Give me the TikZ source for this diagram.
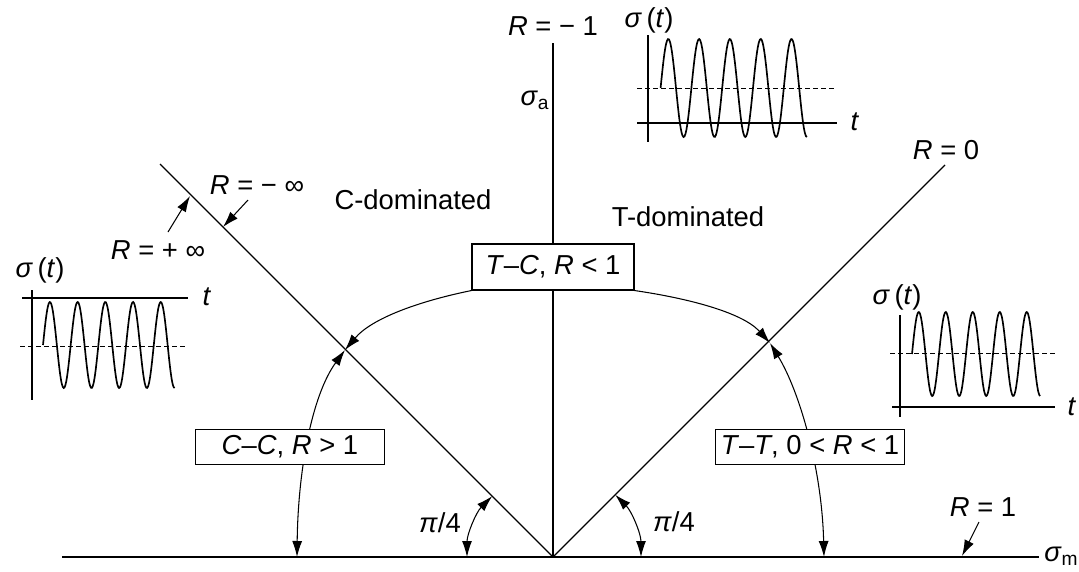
\documentclass[tikz,border=0pt]{standalone}
\usepackage{fontspec}
\setmainfont{Liberation Sans}
\usetikzlibrary{arrows.meta,backgrounds}
\newcommand{\Ri}{\textit{R}}
\newcommand{\sg}{\textit{σ}}
% one sine trace: start x, mid line y, period, amplitude
\newcommand{\wave}[4]{\draw[wave] plot[domain=0:4.75,samples=160,smooth] ({#1+\x*#3},{#2-#4*sin(\x*360)});}

\begin{document}
\begin{tikzpicture}[x=0.2mm,y=-0.2mm,
  font=\fontsize{15.6}{18}\selectfont,
  box/.style={draw,line width=0.6pt,fill=white,inner sep=0pt},
  ax/.style={line width=0.75pt},
  pax/.style={line width=0.6pt},
  mid/.style={line width=0.5pt,dash pattern=on 1mm off 0.6mm},
  wave/.style={line width=0.95pt},
  ar/.style={-{Latex[length=3.2mm,width=2mm]},line width=0.6pt},
  dar/.style={{Latex[length=3.2mm,width=2mm]}-{Latex[length=3.2mm,width=2mm]},line width=0.6pt}]
\useasboundingbox (0,0) rectangle (1079,572);

% main axes and the two 45 degree lines
\coordinate (O) at (553,557);
\draw[ax] (62,557) -- (1039,557);
\draw[ax] (O) -- (553,43);
\draw[ax] (O) -- (160,164);
\draw[ax] (O) -- (945,165);

\node (sa) at (535,100) {\sg\textsubscript{a}};
\node[anchor=west,inner sep=0pt] (sm) at (1044,556) {\sg\textsubscript{m}};
\node (rm1) at (553,26) {\Ri{} = − 1};
\node (r0) at (946,150) {\Ri{} = 0};
\node (r1) at (983,507) {\Ri{} = 1};
\node (rmi) at (257,185) {\Ri{} = − ∞};
\node (rpi) at (158,250) {\Ri{} = + ∞};
\node (cdom) at (413,200) {C-dominated};
\node (tdom) at (688,217) {T-dominated};
\node (q1) at (440,523) {\textit{π}/4};
\node (q2) at (674,522) {\textit{π}/4};

% boxes
\node[box,minimum width=32.4mm,minimum height=9.2mm] (tc) at (553,267) {\textit{T}–\textit{C}, \Ri{} < 1};
\node[box,minimum width=37.8mm,minimum height=7mm] (cc) at (290,447) {\textit{C}–\textit{C}, \Ri{} > 1};
\node[box,minimum width=37.8mm,minimum height=7mm] (tt) at (810,447) {\textit{T}–\textit{T}, 0 < \Ri{} < 1};

% points the arrows go to
\coordinate (pL) at (345,350);
\coordinate (pR) at (770,343);
\coordinate (hCC) at (297,557);
\coordinate (hTT) at (824,557);
\coordinate (qL) at (467,557);
\coordinate (qR) at (641,557);
\coordinate (rmiT) at (223,227);
\coordinate (rmiS) at (248,200);
\coordinate (rpiT) at (190,196);
\coordinate (rpiS) at (168,232);
\coordinate (r1T) at (962,556);
\coordinate (r1S) at (979,522);

\begin{scope}[on background layer]
\draw[ar] (tc.south west) .. controls (420,301) and (372,318) .. (pL);
\draw[ar] (tc.south east) .. controls (686,298) and (742,312) .. (pR);
\draw[dar] (hCC) .. controls (298,470) and (312,395) .. (pL);
\draw[dar] (hTT) .. controls (822,470) and (800,392) .. (pR);
\end{scope}
\draw[dar] (qL) arc[start angle=-180,end angle=-135,radius=86];
\draw[dar] (qR) arc[start angle=0,end angle=-45,radius=88];
\draw[ar] (rmiS) -- (rmiT);
\draw[ar] (rpiS) -- (rpiT);
\draw[ar] (r1S) -- (r1T);

% top trace, R = -1
\draw[pax] (648,35) -- (648,142);
\draw[pax] (637,123) -- (837,123);
\draw[mid] (637,88) -- (835,88);
\wave{660.6}{88}{30.8}{49}
\node (st1) at (649,20) {\sg\,(\textit{t})};
\node (t1) at (855,122) {\textit{t}};

% left trace, R = infinity
\draw[pax] (32,290) -- (32,400);
\draw[pax] (22,298) -- (188,298);
\draw[mid] (20,346) -- (185,346);
\wave{43}{345}{27.7}{43}
\node (st2) at (40,270) {\sg\,(\textit{t})};
\node (t2) at (207,297) {\textit{t}};

% right trace, R = 0
\draw[pax] (900,315) -- (900,417);
\draw[pax] (892,407) -- (1055,407);
\draw[mid] (890,353) -- (1055,353);
\wave{912}{354}{27}{42}
\node (st3) at (897,297) {\sg\,(\textit{t})};
\node (t3) at (1072,407) {\textit{t}};
\end{tikzpicture}
\end{document}
